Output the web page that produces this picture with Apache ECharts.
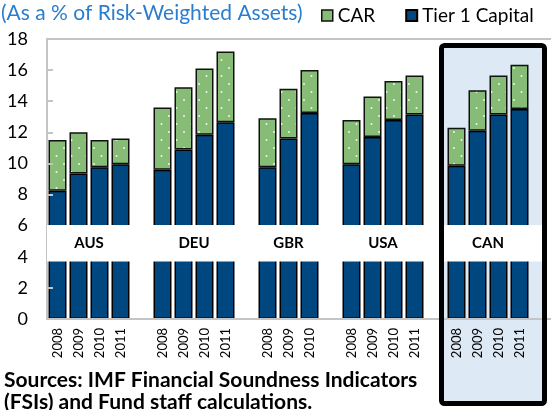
<!DOCTYPE html>
<html>
<head>
<meta charset="utf-8">
<script src="https://cdn.jsdelivr.net/npm/echarts@6/dist/echarts.min.js"></script>
<style>
  html, body { margin: 0; padding: 0; background: #fff; }
  #chart { width: 551px; height: 410px; }
</style>
</head>
<body>
<div id="chart"></div>
<script>
// data
var countries = ["AUS", "DEU", "GBR", "USA", "CAN"];
var years = [
  ["2008", "2009", "2010", "2011"],
  ["2008", "2009", "2010", "2011"],
  ["2008", "2009", "2010"],
  ["2008", "2009", "2010", "2011"],
  ["2008", "2009", "2010", "2011"]
];
var tier1 = [
  [8.25, 9.35, 9.75, 9.95],
  [9.6, 10.9, 11.85, 12.65],
  [9.75, 11.6, 13.25],
  [9.95, 11.7, 12.8, 13.15],
  [9.85, 12.1, 13.15, 13.5]
];
var car = [
  [11.5, 12.0, 11.5, 11.6],
  [13.6, 14.9, 16.1, 17.2],
  [12.9, 14.8, 16.0],
  [12.8, 14.3, 15.3, 15.65],
  [12.3, 14.7, 15.65, 16.35]
];
var yTicks = [0, 2, 4, 6, 8, 10, 12, 14, 16, 18];

var FONT = "Lato";
var BLUE = "#00467f";
var GREEN = "#86bc76";

// flatten into one category axis, with an empty slot after each country
var cats = [], t1Data = [], extraData = [], groups = [];
countries.forEach(function (c, i) {
  var start = cats.length;
  years[i].forEach(function (y, j) {
    cats.push(y);
    t1Data.push(tier1[i][j]);
    extraData.push(+(car[i][j] - tier1[i][j]).toFixed(2));
  });
  groups.push([start, cats.length - 1, c]);
  cats.push("");
  t1Data.push("-");
  extraData.push("-");
});

// dotted green fill
var tile = document.createElement("canvas");
tile.width = 15;
tile.height = 16;
var ctx = tile.getContext("2d");
ctx.fillStyle = GREEN;
ctx.fillRect(0, 0, 15, 16);
ctx.fillStyle = "rgba(255,255,255,0.85)";
ctx.beginPath(); ctx.arc(4, 4, 1, 0, Math.PI * 2); ctx.fill();
ctx.beginPath(); ctx.arc(11.5, 12, 1, 0, Math.PI * 2); ctx.fill();

var chart = echarts.init(document.getElementById("chart"));

// white band across the bars, with the country names in it
var bandAreas = [[{ yAxis: 3.7, itemStyle: { color: "#fff" } }, { yAxis: 6.05 }]];
groups.forEach(function (g) {
  bandAreas.push([
    { xAxis: g[0], yAxis: 3.7, name: g[2], itemStyle: { color: "rgba(0,0,0,0)" } },
    { xAxis: g[1], yAxis: 6.05 }
  ]);
});

// highlight box round CAN
var box = { x: 441.5, y: 45.5, width: 103, height: 358, r: 3 };

var option = {
  animation: false,
  title: [
    {
      text: "(As a % of Risk-Weighted Assets)",
      left: 1,
      top: 3,
      padding: 0,
      textStyle: { fontFamily: FONT, fontSize: 21, fontWeight: "normal", color: "#2a7dcf" }
    },
    {
      text: "Sources: IMF Financial Soundness Indicators\n(FSIs) and Fund staff calculations.",
      left: 4,
      top: 369,
      padding: 0,
      textStyle: { fontFamily: FONT, fontSize: 21, fontWeight: "bold", color: "#000", lineHeight: 22 }
    }
  ],
  legend: {
    left: 321,
    top: 6,
    padding: 0,
    itemGap: 30,
    itemWidth: 11,
    itemHeight: 11,
    icon: "rect",
    textStyle: { fontFamily: FONT, fontSize: 19, color: "#000" },
    data: [
      { name: "CAR", itemStyle: { color: GREEN, borderColor: "#111", borderWidth: 1.5 } },
      { name: "Tier 1 Capital", itemStyle: { color: BLUE, borderColor: "#000", borderWidth: 2 } }
    ]
  },
  grid: { left: 47, top: 39, width: 507, height: 280 },
  xAxis: [
    {
      type: "category",
      data: cats,
      z: 3,
      axisLine: { lineStyle: { color: "#c4c4c4", width: 2 } },
      axisTick: { show: false },
      axisLabel: {
        interval: 0,
        rotate: 90,
        margin: 9,
        fontFamily: FONT,
        fontSize: 13,
        color: "#000"
      }
    },
    {
      type: "category",
      data: cats,
      position: "top",
      axisLine: { lineStyle: { color: "#c4c4c4", width: 2 } },
      axisTick: { show: false },
      axisLabel: { show: false }
    }
  ],
  yAxis: {
    type: "value",
    min: yTicks[0],
    max: yTicks[yTicks.length - 1],
    interval: 2,
    z: 3,
    axisLine: { show: true, lineStyle: { color: "#c4c4c4", width: 2 } },
    axisTick: { show: true, inside: true, length: 6, lineStyle: { color: "#c4c4c4", width: 2 } },
    splitLine: { show: false },
    axisLabel: { margin: 19, fontFamily: FONT, fontSize: 18, color: "#000" }
  },
  graphic: [
    { type: "rect", z: -10, shape: box, style: { fill: "#dde9f5" } },
    { type: "rect", z: 50, silent: true, shape: box, style: { fill: null, stroke: "#000", lineWidth: 5 } }
  ],
  series: [
    {
      name: "Tier 1 Capital",
      type: "bar",
      stack: "cap",
      barWidth: 18,
      itemStyle: { color: BLUE, borderColor: "#000", borderWidth: 1.5 },
      data: t1Data
    },
    {
      name: "CAR",
      type: "bar",
      stack: "cap",
      barWidth: 18,
      itemStyle: { color: { image: tile, repeat: "repeat" }, borderColor: "#111", borderWidth: 1.5 },
      data: extraData
    },
    {
      name: "band",
      type: "line",
      z: 5,
      data: [],
      silent: true,
      markArea: {
        z: 10,
        silent: true,
        label: {
          show: true,
          position: "inside",
          fontFamily: FONT,
          fontSize: 15,
          fontWeight: "bold",
          color: "#000"
        },
        data: bandAreas
      }
    }
  ]
};

chart.setOption(option);
</script>
</body>
</html>
